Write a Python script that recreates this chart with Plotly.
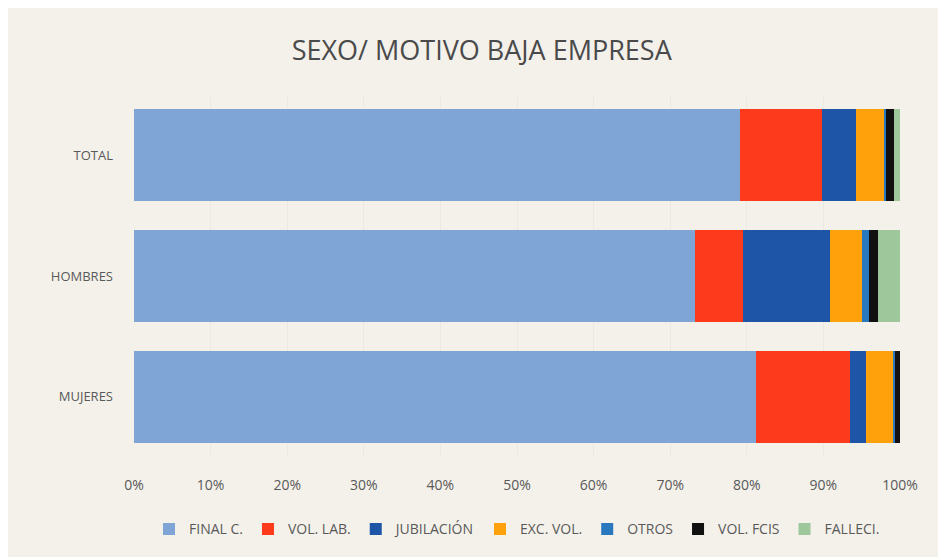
import plotly.graph_objects as go

# categories (top to bottom)
categorias = ['TOTAL', 'HOMBRES', 'MUJERES']

# percentage shares
final_c = [79.1, 73.2, 81.2]
vol_lab = [10.7, 6.3, 12.3]
jubilacion = [4.5, 11.4, 2.1]
exc_vol = [3.6, 4.1, 3.6]
otros = [0.3, 1.0, 0.2]
vol_fcis = [1.0, 1.1, 0.6]
falleci = [0.8, 2.9, 0.0]

series = [
    ('FINAL C.', final_c, '#7ea5d6'),
    ('VOL. LAB.', vol_lab, '#fd3b1c'),
    ('JUBILACIÓN', jubilacion, '#1f55a6'),
    ('EXC. VOL.', exc_vol, '#ffa10a'),
    ('OTROS', otros, '#2a78bd'),
    ('VOL. FCIS', vol_fcis, '#111111'),
    ('FALLECI.', falleci, '#9ec79b'),
]

tick_vals = [0, 10, 20, 30, 40, 50, 60, 70, 80, 90, 100]
tick_text = ['0%', '10%', '20%', '30%', '40%', '50%', '60%', '70%', '80%', '90%', '100%']

fig = go.Figure()
for name, vals, color in series:
    fig.add_trace(go.Bar(y=categorias, x=vals, name=name, orientation='h',
                         marker=dict(color=color, line=dict(width=0))))

# page body has an 8px margin, so the figure is a bit smaller than the window
fig.update_layout(
    barmode='stack',
    bargap=0.24,
    width=938, height=549,
    paper_bgcolor='#f4f1eb',
    plot_bgcolor='#f4f1eb',
    font=dict(family='Open Sans', color='#595959', size=13),
    title=dict(text='SEXO/ MOTIVO BAJA EMPRESA', x=0.505, xanchor='center',
               y=0.923, yanchor='middle',
               font=dict(size=27, color='#4a4a4a')),
    margin=dict(l=126, r=46, t=87, b=97),
    legend=dict(orientation='h', x=0.5, xanchor='center', y=-0.2, yanchor='middle',
                font=dict(size=14, color='#595959'), traceorder='normal'),
    xaxis=dict(range=[0, 100], tickvals=tick_vals, ticktext=tick_text,
               showgrid=True, gridcolor='#ece9e3', zeroline=False, showline=False,
               ticklen=0, ticklabelstandoff=18, tickfont=dict(size=14)),
    yaxis=dict(autorange='reversed', showgrid=False, ticklen=0,
               ticklabelstandoff=20, tickfont=dict(size=13)),
)

fig.write_html('out.html')
